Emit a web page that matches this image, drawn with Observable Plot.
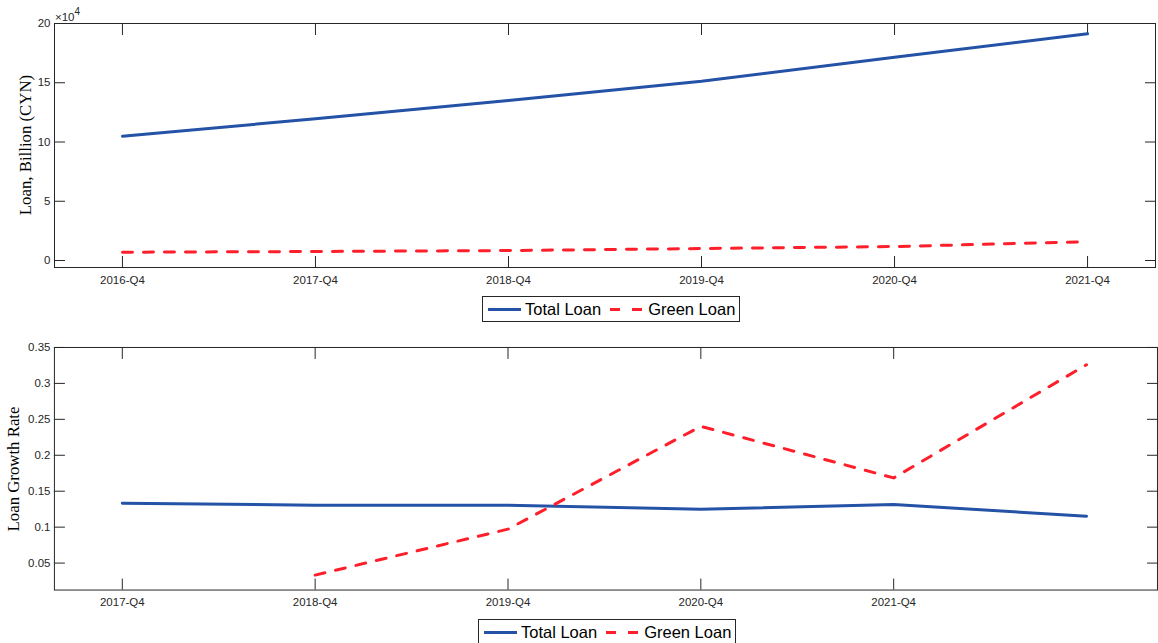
<!DOCTYPE html>
<html><head><meta charset="utf-8">
<script src="https://cdn.jsdelivr.net/npm/d3@7"></script>
<script src="https://cdn.jsdelivr.net/npm/@observablehq/plot@0.6"></script>
<style>
html,body{margin:0;padding:0;background:#fff;overflow:hidden;}
#wrap{position:relative;width:1158px;height:643px;overflow:hidden;font-family:"Liberation Sans",Arial,sans-serif;}
.panel{position:absolute;left:0;}
.ylab{position:absolute;font-family:"Liberation Serif","Times New Roman",serif;font-size:16.8px;white-space:nowrap;transform:translate(-50%,-50%) rotate(-90deg);color:#000;}
.legend{position:absolute;border:1px solid #262626;background:#fff;display:flex;align-items:center;height:26px;width:258px;box-sizing:border-box;font-size:16.5px;color:#000;}
.legend svg{display:block;}
.exp{position:absolute;left:55px;top:7px;font-size:11.5px;color:#262626;}
.exp sup{font-size:10px;position:relative;top:-1px;}
</style></head><body><div id="wrap"></div>
<script>
// ---- data ----
const seriesNames = ["Total Loan", "Green Loan"];
const levelQuarters = ["2016-Q4", "2017-Q4", "2018-Q4", "2019-Q4", "2020-Q4", "2021-Q4"];
const totalLoan = [104900, 119600, 135000, 151300, 171600, 191300];
const greenLoan = [7000, 7600, 8400, 10100, 11800, 15800];
const levelTicks = [0, 50000, 100000, 150000, 200000];

const growthTickLabels = ["2017-Q4", "2018-Q4", "2019-Q4", "2020-Q4", "2021-Q4"];
const totalGrowth = [0.1333, 0.1306, 0.1306, 0.1250, 0.1315, 0.1153];
const greenGrowth = [null, 0.0333, 0.0972, 0.2403, 0.1685, 0.3260];
const growthTicks = [0.05, 0.1, 0.15, 0.2, 0.25, 0.3, 0.35];

// ---- styles ----
const blue = "#2352a6";
const red = "#ff1f2b";
const axisColor = "#262626";
const dash = "10,11";
const wrap = document.getElementById("wrap");

const levelData = levelQuarters.map((q, i) => ({t: i + 1, total: totalLoan[i], green: greenLoan[i]}));
const growthData = totalGrowth.map((v, i) => ({t: i + 1, total: v, green: greenGrowth[i]}));
const levelIdx = levelQuarters.map((q, i) => i + 1);
const growthIdx = growthTickLabels.map((q, i) => i + 1);

const baseStyle = {fontFamily: "'Liberation Sans', Arial, sans-serif", fontSize: "11.5px", color: axisColor, background: "transparent", overflow: "visible"};

function axesMarks(xIdx, xFmt, yTicks, yFmt) {
  return [
    Plot.frame({stroke: axisColor, strokeWidth: 1}),
    Plot.axisX(xIdx, {anchor: "bottom", tickSize: -11, tickPadding: 19, tickFormat: xFmt, label: null, color: axisColor}),
    Plot.axisX(xIdx, {anchor: "top", tickSize: -11, tickFormat: () => "", label: null, color: axisColor}),
    Plot.axisY(yTicks, {anchor: "left", tickSize: -11, tickPadding: 15, tickFormat: yFmt, label: null, color: axisColor}),
    Plot.axisY(yTicks, {anchor: "right", tickSize: -11, tickFormat: () => "", label: null, color: axisColor})
  ];
}

const topPlot = Plot.plot({
  width: 1158, height: 290, marginTop: 23, marginBottom: 23, marginLeft: 54, marginRight: 3,
  style: baseStyle,
  x: {type: "linear", domain: [0.648, 6.352], axis: null},
  y: {type: "linear", domain: [-5900, 200000], axis: null},
  marks: [
    ...axesMarks(levelIdx, d => levelQuarters[d - 1], levelTicks, d => String(d / 1e4)),
    Plot.line(levelData, {x: "t", y: "total", stroke: blue, strokeWidth: 3}),
    Plot.line(levelData, {x: "t", y: "green", stroke: red, strokeWidth: 3, strokeDasharray: dash})
  ]
});
topPlot.classList.add("panel");
topPlot.style.top = "0px";
wrap.appendChild(topPlot);

const botPlot = Plot.plot({
  width: 1160, height: 285, marginTop: 17, marginBottom: 25, marginLeft: 54, marginRight: 1,
  style: baseStyle,
  x: {type: "linear", domain: [0.648, 6.368], axis: null},
  y: {type: "linear", domain: [0.0125, 0.35], axis: null},
  marks: [
    ...axesMarks(growthIdx, d => growthTickLabels[d - 1], growthTicks, d => String(+d.toFixed(2))),
    Plot.line(growthData, {x: "t", y: "total", stroke: blue, strokeWidth: 3}),
    Plot.line(growthData.filter(d => d.green != null), {x: "t", y: "green", stroke: red, strokeWidth: 3, strokeDasharray: dash})
  ]
});
botPlot.classList.add("panel");
botPlot.style.top = "330px";
wrap.appendChild(botPlot);

// exponent label
const exp = document.createElement("div");
exp.className = "exp";
exp.innerHTML = "&times;10<sup>4</sup>";
wrap.appendChild(exp);

// y labels
function ylab(text, x, y) {
  const d = document.createElement("div");
  d.className = "ylab";
  d.textContent = text;
  d.style.left = x + "px";
  d.style.top = y + "px";
  wrap.appendChild(d);
}
ylab("Loan, Billion (CYN)", 26, 145);
ylab("Loan Growth Rate", 14, 469);

// legends
function legend(left, top) {
  const lg = d3.select(wrap).append("div").attr("class", "legend")
    .style("left", left + "px").style("top", top + "px");
  seriesNames.forEach((name, i) => {
    const svg = lg.append("svg").attr("width", 34).attr("height", 24)
      .style("margin-left", i === 0 ? "4px" : "8px");
    svg.append("line").attr("x1", 1).attr("x2", 34).attr("y1", 12.5).attr("y2", 12.5)
      .attr("stroke", i === 0 ? blue : red).attr("stroke-width", 3)
      .attr("stroke-dasharray", i === 0 ? null : "10,12");
    lg.append("span").text(name).style("margin-left", i === 0 ? "4px" : "5px");
  });
}
legend(482, 296);
legend(478, 619);
</script>
</body></html>
